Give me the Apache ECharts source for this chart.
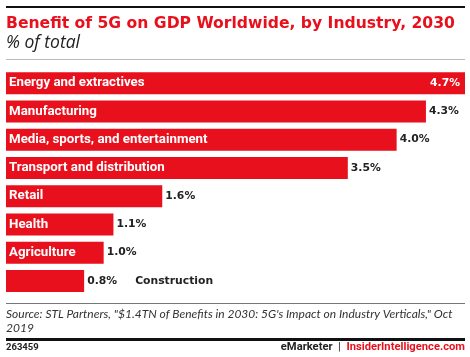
<!DOCTYPE html>
<html><head><meta charset="utf-8">
<script src="https://cdn.jsdelivr.net/npm/echarts@6/dist/echarts.min.js"></script>
<style>html,body{margin:0;padding:0;background:#fff}#c{width:470px;height:357px}</style>
</head><body><div id="c"></div>
<script>
var categories = ["Energy and extractives","Manufacturing","Media, sports, and entertainment","Transport and distribution","Retail","Health","Agriculture","Construction"];
var values = [4.7, 4.3, 4.0, 3.5, 1.6, 1.1, 1.0, 0.8];
var titleText = "Benefit of 5G on GDP Worldwide, by Industry, 2030";
var subtitleText = "% of total";
var sourceText = "Source: STL Partners, \"$1.4TN of Benefits in 2030: 5G's Impact on Industry Verticals,\" Oct\n2019";
var chartId = "263459";

var RED = '#e8101c';
var FONT = '"DejaVu Sans"';
var NFONT = 'Roboto';
var LBL = 10.8;
var maxV = Math.max.apply(null, values);
var nameFits = function(i){ return i < categories.length - 1; };

var barData = values.map(function(v, i){
  return { value: v, name: categories[i],
    label: { show: nameFits(i) } };
});
var valData = values.map(function(v, i){
  var item = { value: v };
  if (v === maxV) {
    item.label = { position: 'insideRight', color: '#fff', offset: [-2, 0] };
  } else if (!nameFits(i)) {
    item.label = { formatter: '{v|' + v.toFixed(1) + '%}{n|' + categories[i] + '}' };
  }
  return item;
});

var chart = echarts.init(document.getElementById('c'), null, {renderer:'canvas'});
chart.setOption({
  animation: false,
  backgroundColor: '#fff',
  grid: { left: 6, right: 5, top: 69, bottom: 62, containLabel: false },
  xAxis: { type: 'value', min: 0, max: maxV, show: false },
  yAxis: { type: 'category', data: categories, inverse: true, show: false },
  series: [
    { type: 'bar', data: barData, barWidth: 22, itemStyle: { color: RED },
      label: { show: true, position: 'insideLeft', offset: [-2, 0], formatter: '{b}',
        color: '#fff', fontFamily: NFONT, fontWeight: 'bold', fontSize: 13.3 } },
    { type: 'bar', data: valData, barWidth: 22, barGap: '-100%', itemStyle: { color: 'rgba(0,0,0,0)' },
      label: { show: true, position: 'right', distance: 3,
        formatter: function(p){ return p.value.toFixed(1) + '%'; },
        color: '#222', fontFamily: FONT, fontWeight: 'bold', fontSize: LBL,
        rich: {
          v: { color: '#222', fontFamily: FONT, fontWeight: 'bold', fontSize: LBL, width: 48 },
          n: { color: '#222', fontFamily: FONT, fontWeight: 'bold', fontSize: LBL }
        } } }
  ],
  graphic: [
    { type: 'rect', shape: { x: 6, y: 6, width: 459, height: 2 }, style: { fill: '#111' } },
    { type: 'text', left: 6, top: 15.5, style: { text: titleText, fill: RED, font: 'bold 15.6px ' + FONT } },
    { type: 'text', left: 6, top: 34, style: { text: subtitleText, fill: '#222', font: 'italic 17.5px "Open Sans"' } },
    { type: 'rect', shape: { x: 6, y: 59, width: 459, height: 1 }, style: { fill: '#bbb' } },
    { type: 'rect', shape: { x: 6, y: 303, width: 459, height: 1 }, style: { fill: '#777' } },
    { type: 'text', left: 6, top: 307, style: { text: sourceText, fill: '#333', font: 'italic 12px Lato', lineHeight: 14 } },
    { type: 'rect', shape: { x: 6, y: 338, width: 459, height: 3 }, style: { fill: '#111' } },
    { type: 'text', left: 6, top: 343, style: { text: chartId, fill: '#222', fontFamily: NFONT, fontWeight: 'bold', fontSize: 9.5 } },
    { type: 'text', right: 5, top: 342, style: { rich: {
        a: { fill: '#222', fontFamily: NFONT, fontWeight: 'bold', fontSize: 11.2 },
        s: { fill: '#222', fontFamily: NFONT, fontSize: 11.2 },
        b: { fill: RED, fontFamily: NFONT, fontWeight: 'bold', fontSize: 11.2 } },
      text: '{a|eMarketer}{s|  |  }{b|InsiderIntelligence.com}' } }
  ]
});
</script></body></html>
